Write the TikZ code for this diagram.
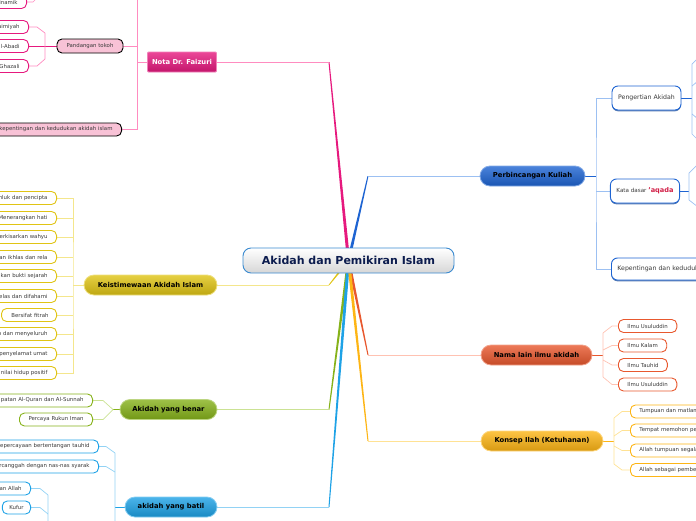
\documentclass[tikz,border=0pt]{standalone}
\usepackage{fontspec}
\setmainfont{DejaVu Sans}
\usetikzlibrary{backgrounds,shadows,calc}

\definecolor{hubline}{HTML}{3A8AD0}
\definecolor{hubtext}{HTML}{0C1C4E}
\definecolor{leaftext}{HTML}{3A3A3A}
\definecolor{aqred}{HTML}{D21E46}
\definecolor{pinkM}{HTML}{E6197E}
\definecolor{pinkL}{HTML}{FF8CC0}
\definecolor{pinkS}{HTML}{F8C2D6}
\definecolor{blueM}{HTML}{1E64D2}
\definecolor{blueL}{HTML}{9CC0F2}
\definecolor{yelM}{HTML}{E0C414}
\definecolor{yelL}{HTML}{F4E68C}
\definecolor{grnM}{HTML}{86B21A}
\definecolor{grnL}{HTML}{CBE294}
\definecolor{cyaM}{HTML}{1EA2E6}
\definecolor{cyaL}{HTML}{92D2F4}
\definecolor{redM}{HTML}{E8582E}
\definecolor{redL}{HTML}{FFC2B2}
\definecolor{orgM}{HTML}{FDB515}
\definecolor{orgL}{HTML}{FFE294}

\begin{document}
\begin{tikzpicture}[x=1pt, y=-1pt,
    hub/.style={draw=hubline, line width=0.9, rounded corners=8, top color=white, bottom color=black!16, minimum width=211, minimum height=25, inner sep=0, font=\fontsize{11}{13}\selectfont\bfseries, text=hubtext},
    topic/.style={draw=#1!55!white, line width=0.8, rounded corners=10, top color=#1!80!white, bottom color=#1!85!black, minimum height=20, inner sep=0, font=\fontsize{6.8}{8}\selectfont\bfseries, text=black},
    sub/.style={draw=#1, line width=0.9, fill=white, rounded corners=6, inner xsep=6, inner ysep=0, font=\fontsize{6.2}{7.5}\selectfont, text=leaftext, drop shadow={shadow xshift=0pt, shadow yshift=-1.3pt, fill=#1!70!black, opacity=.7}},
    leaf/.style={draw=#1, line width=0.9, fill=white, rounded corners=5, minimum height=13, inner xsep=9, inner ysep=0, font=\fontsize{5.4}{6.5}\selectfont, text=leaftext},
    cutl/.style={anchor=east, text width=#1, align=right},
    cutr/.style={anchor=west, text width=#1, align=left},
    trunk/.style={fill=#1, to path={($(\tikztostart)+(-1.6,0)$) -- ($(\tikztotarget)+(-0.5,0)$) -- ($(\tikztotarget)+(0.5,0)$) -- ($(\tikztostart)+(1.6,0)$) -- cycle}},
    twig/.style={draw=#1, line width=0.7}
]
    \useasboundingbox (0,0) rectangle (696,520);

    % 中心主题
    \node[hub] (hub) at (348.5,260.5) {Akidah dan Pemikiran Islam};

    % 主分支
    \node[topic=pinkM, rounded corners=1, minimum width=69, text=white] (nota) at (182,62) {Nota Dr. Faizuri};
    \node[topic=blueM, minimum width=105] (perb) at (532.5,176) {Perbincangan Kuliah};
    \node[topic=yelM, minimum width=133] (keis) at (150.5,285) {Keistimewaan Akidah Islam};
    \node[topic=grnM, minimum width=97] (benar) at (168.5,409.5) {Akidah yang benar};
    \node[topic=cyaM, minimum width=92] (batil) at (171,507) {akidah yang batil};
    \node[topic=redM, minimum width=111] (nama) at (536.5,355) {Nama lain ilmu akidah};
    \node[topic=orgM, minimum width=122] (ilah) at (542,441) {Konsep Ilah (Ketuhanan)};

    % Nota Dr. Faizuri
    \node[leaf=black, fill=pinkS, minimum width=66, minimum height=14, inner xsep=4] (pand) at (90,46) {Pandangan tokoh};
    \node[leaf=black, fill=pinkS, cutl=116] (kep) at (122,129.5) {kepentingan dan kedudukan akidah islam};
    \node[leaf=pinkM, cutl=60] (tdin) at (27,2) {inamik};
    \node[leaf=pinkM, cutl=60] (tibn) at (29,27) {aimiyah};
    \node[leaf=pinkM, cutl=60] (tabd) at (29,46) {l-Abadi};
    \node[leaf=pinkM, cutl=60] (tgzl) at (29,66) {Ghazali};

    % Keistimewaan Akidah Islam
    \node[leaf=yelM, cutl=80] (ka) at (57,198) {hluk dan pencipta};
    \node[leaf=yelM, cutl=80] (kb) at (57,218) {Menerangkan hati};
    \node[leaf=yelM, cutl=80] (kc) at (57,237) {erkisarkan wahyu};
    \node[leaf=yelM, cutl=80] (kd) at (57,257) {an ikhlas dan rela};
    \node[leaf=yelM, cutl=80] (ke) at (57,276) {kan bukti sejarah};
    \node[leaf=yelM, cutl=80] (kf) at (57,296) {elas dan difahami};
    \node[leaf=yelM, cutl=39, inner xsep=8] (kg) at (57,315) {Bersifat fitrah};
    \node[leaf=yelM, cutl=80] (kh) at (57,334) {p dan menyeluruh};
    \node[leaf=yelM, cutl=80] (ki) at (57,354) {penyelamat umat};
    \node[leaf=yelM, cutl=80] (kj) at (57,373) {nilai hidup positif};

    % Akidah yang benar / batil
    \node[leaf=grnM, cutl=100] (bqur) at (93,400.5) {patan Al-Quran dan Al-Sunnah};
    \node[leaf=grnM, anchor=east] (biman) at (93,419.5) {Percaya Rukun Iman};
    \node[leaf=cyaM, cutl=110] (ttauh) at (99,446.5) {epercayaan bertentangan tauhid};
    \node[leaf=cyaM, cutl=110] (tnas) at (99,466.5) {rcanggah dengan nas-nas syarak};
    \node[leaf=cyaM, cutl=40] (tallah) at (31,488.5) {an Allah};
    \node[leaf=cyaM, anchor=east, inner xsep=7] (tkufur) at (31,507.5) {Kufur};

    % Perbincangan Kuliah
    \node[sub=blueM, minimum width=69, minimum height=24] (pengert) at (646.5,98) {Pengertian Akidah};
    \node[sub=blueM, minimum width=68, minimum height=24] (kata) at (645,191) {\fontsize{5.6}{7}\selectfont Kata dasar \textcolor{aqred}{\bfseries\fontsize{6.6}{7}\selectfont 'aqada}};
    \node[sub=blueM, cutr=110, minimum height=22] (kepent) at (611,269) {Kepentingan dan kedudukan};

    % Nama lain ilmu akidah
    \node[leaf=redM, anchor=west] (nusul1) at (618,326) {Ilmu Usuluddin};
    \node[leaf=redM, anchor=west] (nkalam) at (618,345.5) {Ilmu Kalam};
    \node[leaf=redM, anchor=west] (ntauhid) at (618,365) {Ilmu Tauhid};
    \node[leaf=redM, anchor=west] (nusul2) at (618,384.5) {Ilmu Usuluddin};

    % Konsep Ilah
    \node[leaf=orgM, cutr=80] (itump) at (630,411.5) {Tumpuan dan matlamat};
    \node[leaf=orgM, cutr=80] (itemp) at (630,430.5) {Tempat memohon pe};
    \node[leaf=orgM, cutr=80] (iallah) at (630,450.5) {Allah tumpuan segala};
    \node[leaf=orgM, cutr=80] (ipemb) at (630,470) {Allah sebagai pembe};

    % 连线
    \begin{scope}[on background layer]
        \coordinate (jnota) at (329,62);
        \coordinate (jperb) at (368,176);
        \coordinate (jkeis) at (329,285);
        \coordinate (jbenar) at (329,409.5);
        \coordinate (jbatil) at (329,507);
        \coordinate (jnama) at (368,355);
        \coordinate (jilah) at (368,441);

        \path[trunk=pinkM] (hub.center) to (jnota);
        \draw[twig=pinkL] (jnota) -- (nota.east);
        \path[trunk=blueM] (hub.center) to (jperb);
        \draw[twig=blueL] (jperb) -- (perb.west);
        \path[trunk=yelM] (hub.center) to (jkeis);
        \draw[twig=yelL] (jkeis) -- (keis.east);
        \path[trunk=grnM] (hub.center) to (jbenar);
        \draw[twig=grnL] (jbenar) -- (benar.east);
        \path[trunk=cyaM] (hub.center) to (jbatil);
        \draw[twig=cyaL] (jbatil) -- (batil.east);
        \path[trunk=redM] (hub.center) to (jnama);
        \draw[twig=redL] (jnama) -- (nama.west);
        \path[trunk=orgM] (hub.center) to (jilah);
        \draw[twig=orgL] (jilah) -- (ilah.west);

        \draw[twig=pinkL] (nota.west) -- (137,62) coordinate (snota);
        \draw[twig=pinkL] (137,-2) |- (kep.east);
        \draw[twig=pinkL] (pand.east) -- (pand.east -| snota);
        \draw[twig=pinkM] (pand.west) -- (tabd.east);
        \draw[twig=pinkL] (tibn.east) -- ++(8,0) -- (45,33) -- (45,59) -- (37,66) -- (tgzl.east);
        \draw[twig=pinkL] (tdin.east) -- ++(6,0) -- ++(6,-6);

        \draw[twig=yelL] (keis.west) -- (73,285) coordinate (skeis);
        \draw[twig=yelL] (ka.east) -| (skeis) |- (kj.east);
        \draw[twig=yelL] (kb.east) -- (kb.east -| skeis);
        \draw[twig=yelL] (kc.east) -- (kc.east -| skeis);
        \draw[twig=yelL] (kd.east) -- (kd.east -| skeis);
        \draw[twig=yelL] (ke.east) -- (ke.east -| skeis);
        \draw[twig=yelL] (kf.east) -- (kf.east -| skeis);
        \draw[twig=yelL] (kg.east) -- (kg.east -| skeis);
        \draw[twig=yelL] (kh.east) -- (kh.east -| skeis);
        \draw[twig=yelL] (ki.east) -- (ki.east -| skeis);

        \draw[twig=grnM] (benar.west) -- (113,409.5) coordinate (sbenar);
        \draw[twig=grnL] (bqur.east) -- ++(10,0) -- (sbenar) -- (103,419.5) -- (biman.east);

        \draw[twig=cyaM] (batil.west) -- (115,507) coordinate (sbatil);
        \draw[twig=cyaL] (ttauh.east) -- ++(7,0) -- (115,453) -- (115,522);
        \draw[twig=cyaL] (tnas.east) -- ++(7,0) -- (115,472);
        \draw[twig=cyaL] (tallah.east) -- ++(9,0) -- (48,495) -- (48,522);
        \draw[twig=cyaL] (tkufur.east) -- ++(9,0) -- (48,514);

        \draw[twig=blueM] (perb.east) -- (596,176) coordinate (sperb);
        \draw[twig=blueL] (pengert.west) -| (sperb) |- (kepent.west);
        \draw[twig=blueL] (kata.west) -- (kata.west -| sperb);
        \draw[twig=blueM] (pengert.east) -- (692,98) coordinate (speng);
        \draw[twig=blueL] (698,58) -- (692,64) -- (692,134) -- (698,140);
        \draw[twig=blueL] (692,86) -- (698,81);
        \draw[twig=blueL] (692,114) -- (698,119);
        \draw[twig=blueM] (kata.east) -- (689,191) coordinate (skata);
        \draw[twig=blueL] (698,164) -- (689,173) -- (689,200) -- (698,207);

        \draw[twig=redM] (nama.east) -- (603,355) coordinate (snama);
        \draw[twig=redL] (nusul1.west) -- ++(-6,0) -- (603,333) -- (603,377) -- (612,384.5) -- (nusul2.west);
        \draw[twig=redL] (nkalam.west) -- ++(-6,0) -- (603,350);
        \draw[twig=redL] (ntauhid.west) -- ++(-6,0) -- (603,360);

        \draw[twig=orgM] (ilah.east) -- (614,441) coordinate (silah);
        \draw[twig=orgL] (itump.west) -- ++(-8,0) -- (614,418) -- (614,464) -- (622,470) -- (ipemb.west);
        \draw[twig=orgL] (itemp.west) -- ++(-8,0) -- (614,436);
        \draw[twig=orgL] (iallah.west) -- ++(-8,0) -- (614,446);
    \end{scope}
\end{tikzpicture}
\end{document}
